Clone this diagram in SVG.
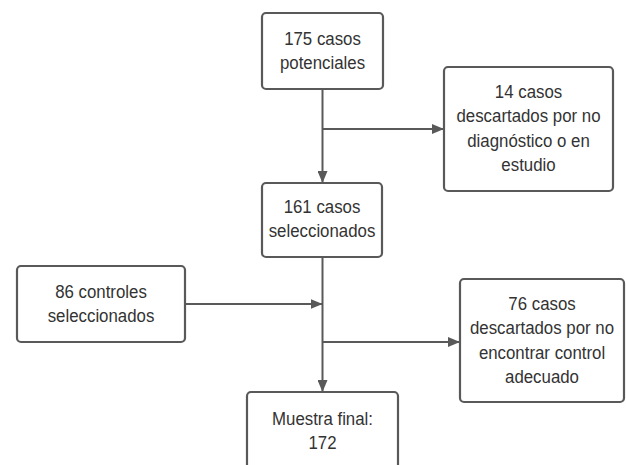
<svg xmlns="http://www.w3.org/2000/svg" width="626" height="465" viewBox="0 0 626 465">
<defs>
<style>
.box{fill:#ffffff;stroke:#595959;stroke-width:2.2}
.t{font-family:"Liberation Sans",Arial,sans-serif;font-size:18.5px;fill:#333333;text-anchor:middle}
.c{fill:none;stroke:#595959;stroke-width:2}
</style>
<marker id="ah" viewBox="0 0 12 10" refX="12" refY="5" markerWidth="12" markerHeight="10" markerUnits="userSpaceOnUse" orient="auto">
<path d="M0,0 L12,5 L0,10 Z" fill="#595959"/>
</marker>
</defs>
<rect width="626" height="465" fill="#ffffff"/>
<g id="connectors">
<line class="c" x1="322.5" y1="89" x2="322.5" y2="183" marker-end="url(#ah)"/>
<line class="c" x1="322.5" y1="129" x2="444" y2="129" marker-end="url(#ah)"/>
<line class="c" x1="322.5" y1="257" x2="322.5" y2="392" marker-end="url(#ah)"/>
<line class="c" x1="185" y1="304" x2="322.5" y2="304" marker-end="url(#ah)"/>
<line class="c" x1="322.5" y1="342" x2="460" y2="342" marker-end="url(#ah)"/>
</g>
<g id="n1">
<rect class="box" x="262" y="13" width="121" height="76" rx="4"/>
<g transform="translate(322.5 0) scale(0.91 1)">
<text class="t" x="0" y="45">175 casos</text>
<text class="t" x="0" y="69.5">potenciales</text>
</g>
</g>
<g id="n2">
<rect class="box" x="444" y="67" width="169" height="124" rx="4"/>
<g transform="translate(528.5 0) scale(0.91 1)">
<text class="t" x="0" y="98">14 casos</text>
<text class="t" x="0" y="122.5">descartados por no</text>
<text class="t" x="0" y="147">diagnóstico o en</text>
<text class="t" x="0" y="171.5">estudio</text>
</g>
</g>
<g id="n3">
<rect class="box" x="262" y="183" width="120" height="74" rx="4"/>
<g transform="translate(322 0) scale(0.91 1)">
<text class="t" x="0" y="213">161 casos</text>
<text class="t" x="0" y="237.5">seleccionados</text>
</g>
</g>
<g id="n4">
<rect class="box" x="17" y="266" width="168" height="76" rx="4"/>
<g transform="translate(101 0) scale(0.91 1)">
<text class="t" x="0" y="298">86 controles</text>
<text class="t" x="0" y="322.5">seleccionados</text>
</g>
</g>
<g id="n5">
<rect class="box" x="460" y="279" width="164" height="123" rx="4"/>
<g transform="translate(542 0) scale(0.91 1)">
<text class="t" x="0" y="310">76 casos</text>
<text class="t" x="0" y="334.5">descartados por no</text>
<text class="t" x="0" y="359">encontrar control</text>
<text class="t" x="0" y="383.5">adecuado</text>
</g>
</g>
<g id="n6">
<rect class="box" x="247" y="392" width="151" height="80" rx="4"/>
<g transform="translate(322.5 0) scale(0.91 1)">
<text class="t" x="0" y="425">Muestra final:</text>
<text class="t" x="0" y="449">172</text>
</g>
</g>
</svg>
